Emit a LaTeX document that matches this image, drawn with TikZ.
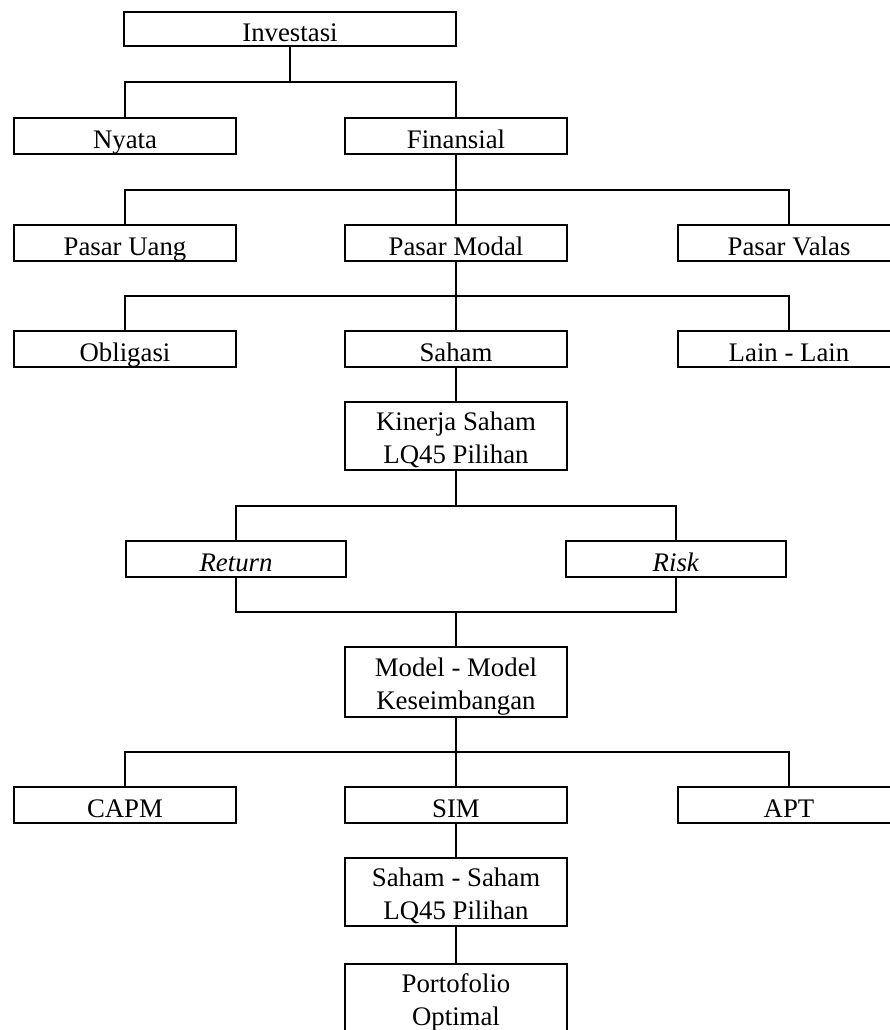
\documentclass[tikz,border=0pt]{standalone}
\usepackage{fontspec}
\setmainfont{Liberation Serif}
\usetikzlibrary{calc}

\tikzset{
  box/.style={draw, minimum width=111pt, minimum height=18pt, inner sep=0pt,
              text height=12pt, text depth=0pt,
              align=center, font=\fontsize{13.4}{16.5}\selectfont},
  tallbox/.style={box, minimum height=34pt, text height=27pt},
  tree/.style={to path={(\tikztostart) |- ($(\tikztostart)!0.5!(\tikztotarget)$) -| (\tikztotarget)}}
}

\begin{document}
\begin{tikzpicture}[x=0.5pt, y=-0.5pt, line width=1pt]
  \useasboundingbox (0,0) rectangle (890,1030);
  \clip (0,0) rectangle (890,1030);
  % Investment hierarchy
  \node[box, minimum width=166pt, minimum height=17pt] (inv) at (290,29) {Investasi};
  \node[box] (nyata) at (125,136) {Nyata};
  \node[box] (fin)   at (456,136) {Finansial};
  \node[box] (uang)  at (125,243) {Pasar Uang};
  \node[box] (modal) at (456,243) {Pasar Modal};
  \node[box] (valas) at (789,243) {Pasar Valas};
  \node[box] (oblig) at (125,349) {Obligasi};
  \node[box] (saham) at (456,349) {Saham};
  \node[box] (lain)  at (789,349) {Lain - Lain};
  \node[tallbox] (kinerja) at (456,436) {Kinerja Saham\\LQ45 Pilihan};
  \node[box, minimum width=110pt] (ret)  at (236,559) {\textit{Return}};
  \node[box, minimum width=110pt] (risk) at (676,559) {\textit{Risk}};
  \node[tallbox, minimum height=35pt] (model) at (456,682) {Model - Model\\Keseimbangan};
  \node[box] (capm) at (125,805) {CAPM};
  \node[box] (sim)  at (456,805) {SIM};
  \node[box] (apt)  at (789,805) {APT};
  \node[tallbox] (lq45)  at (456,892) {Saham - Saham\\LQ45 Pilihan};
  \node[tallbox] (porto) at (456,998) {Portofolio\\Optimal};

  % connectors
  \draw[tree] (inv.south) to (nyata.north) (inv.south) to (fin.north);
  \draw[tree] (fin.south) to (uang.north) (fin.south) to (modal.north)
              (fin.south) to (valas.north);
  \draw[tree] (modal.south) to (oblig.north) (modal.south) to (saham.north)
              (modal.south) to (lain.north);
  \draw (saham.south) -- (kinerja.north);
  \draw[tree] (kinerja.south) to (ret.north) (kinerja.south) to (risk.north);
  \draw[tree] (ret.south) to (model.north) (risk.south) to (model.north);
  \draw[tree] (model.south) to (capm.north) (model.south) to (sim.north)
              (model.south) to (apt.north);
  \draw (sim.south) -- (lq45.north);
  \draw (lq45.south) -- (porto.north);
\end{tikzpicture}
\end{document}
